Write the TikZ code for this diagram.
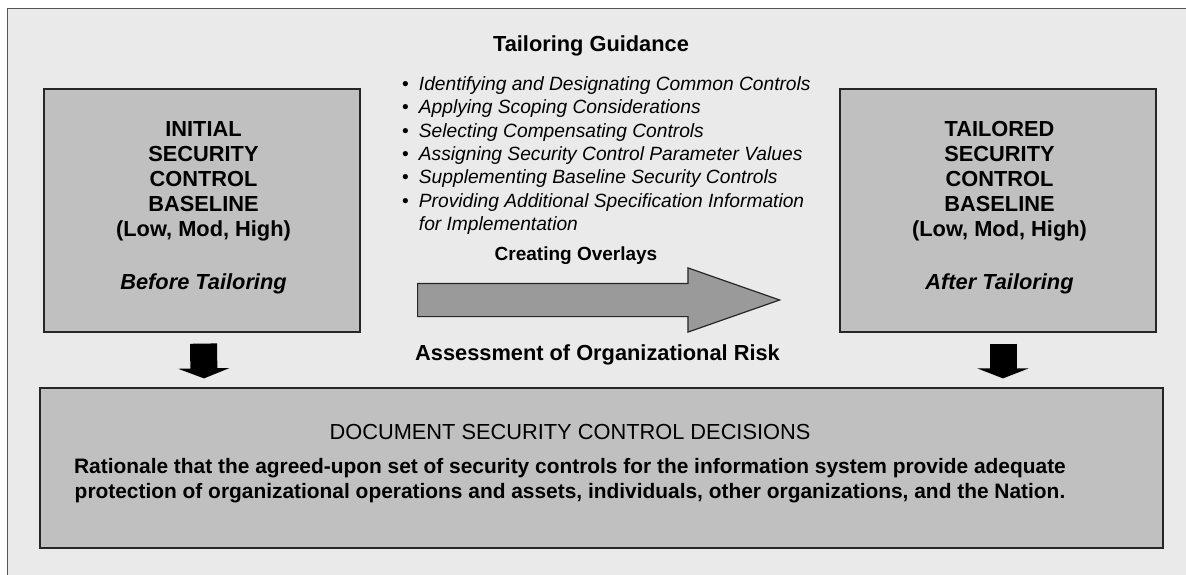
\documentclass[tikz,border=0pt]{standalone}
\usepackage{fontspec}
\setmainfont{Liberation Sans}
\usetikzlibrary{positioning, arrows.meta, shapes.arrows}

\definecolor{panelgray}{HTML}{EAEAEA}
\definecolor{boxgray}{HTML}{C0C0C0}
\definecolor{arrowgray}{HTML}{9A9A9A}
\definecolor{framegray}{HTML}{555555}

\begin{document}
\begin{tikzpicture}[x=1pt, y=-1pt,
    panel/.style={draw=framegray, line width=1.4pt, fill=panelgray},
    graybox/.style={draw=black!85, line width=1.2pt, fill=boxgray, inner sep=0pt},
    boxtext/.style={align=center, font=\bfseries\fontsize{21.8}{25}\selectfont},
    heading/.style={font=\bfseries\fontsize{21.8}{24}\selectfont},
    downarrow/.style={line width=27pt, -{Triangle[width=51pt, length=10pt]}},
    ]
    \useasboundingbox (0,0) rectangle (1186,575);
    \path[panel] (7.5,8.5) rectangle (1200,590);

    % baseline boxes
    \node[graybox, minimum width=316pt, minimum height=243pt] (initial) at (202,210.5) {};
    \node[graybox, minimum width=316pt, minimum height=243pt] (tailored) at (998,210.5) {};
    \node[graybox, minimum width=1123pt, minimum height=160pt] (decision) at (601.5,468) {};

    \node[boxtext] (initialtxt) at ([yshift=3pt,xshift=1.5pt]initial.center)
        {INITIAL\\SECURITY\\CONTROL\\BASELINE\\(Low, Mod, High)\\[28pt]\textit{Before Tailoring}};
    \node[boxtext] (tailoredtxt) at ([yshift=3pt,xshift=1.5pt]tailored.center)
        {TAILORED\\SECURITY\\CONTROL\\BASELINE\\(Low, Mod, High)\\[28pt]\textit{After Tailoring}};
    \node[boxtext, font=\bfseries\fontsize{20.9}{25}\selectfont] (decisiontxt) at (570,464)
        {\mdseries\fontsize{21.8}{25}\selectfont DOCUMENT SECURITY CONTROL DECISIONS\\[9pt]
         Rationale that the agreed-upon set of security controls for the information system provide adequate\\
         protection of organizational operations and assets, individuals, other organizations, and the Nation.};

    % tailoring guidance
    \node[heading] (title) at (591,46) {Tailoring Guidance};
    \node[anchor=north west, inner sep=0pt, font=\itshape\fontsize{19.2}{23.3}\selectfont] (guidance) at (402,74) {%
        \begin{tabular}{@{}l@{\hspace{10pt}}l@{}}
        \upshape\textbullet & Identifying and Designating Common Controls\\
        \upshape\textbullet & Applying Scoping Considerations\\
        \upshape\textbullet & Selecting Compensating Controls\\
        \upshape\textbullet & Assigning Security Control Parameter Values\\
        \upshape\textbullet & Supplementing Baseline Security Controls\\
        \upshape\textbullet & Providing Additional Specification Information\\
                            & for Implementation
        \end{tabular}};

    \node[font=\bfseries\fontsize{19}{22}\selectfont] (overlays) at (576,256) {Creating Overlays};
    \node[single arrow, draw=black!85, line width=1.2pt, fill=arrowgray, inner xsep=0pt, inner ysep=16pt,
          minimum height=362pt, minimum width=63pt, single arrow head extend=15.5pt,
          single arrow tip angle=38.6, anchor=tail] (flow) at (417,300) {};
    \node[heading] (risk) at (597.5,355) {Assessment of Organizational Risk};

    % down arrows
    \draw[downarrow] ([xshift=1.5pt,yshift=-11pt]initial.south) -- ([xshift=2pt,yshift=9pt]decision.north -| initial.south);
    \draw[downarrow] ([xshift=5pt,yshift=-11pt]tailored.south) -- ([xshift=5pt,yshift=9pt]decision.north -| tailored.south);
\end{tikzpicture}
\end{document}
